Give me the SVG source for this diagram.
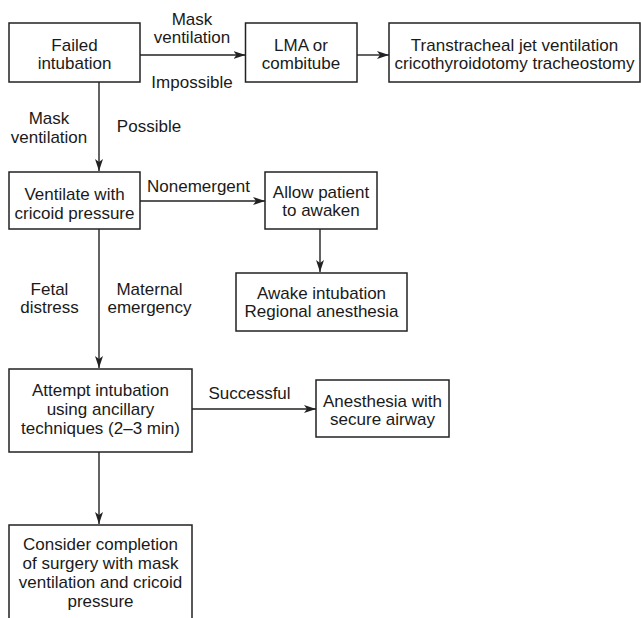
<svg xmlns="http://www.w3.org/2000/svg" width="641" height="618" viewBox="0 0 641 618">
<defs>
<marker id="ah" viewBox="0 0 12 8" refX="12" refY="4" markerWidth="12" markerHeight="8" markerUnits="userSpaceOnUse" orient="auto">
<path d="M0,0 L12,4 L0,8 L3,4 Z" fill="#222"/>
</marker>
<style>
rect.box{fill:#fff;stroke:#222;stroke-width:1.5}
text{font-family:"Liberation Sans",Arial,sans-serif;font-size:17px;fill:#1a1a1a;text-anchor:middle}
.conn line{stroke:#222;stroke-width:1.4;marker-end:url(#ah)}
</style>
</defs>
<rect width="641" height="618" fill="#fff"/>
<g class="conn" id="connectors">
<line x1="140" y1="55" x2="245.5" y2="55"/>
<line x1="357" y1="55" x2="389" y2="55"/>
<line x1="99" y1="82" x2="99" y2="171"/>
<line x1="140" y1="201" x2="265" y2="201"/>
<line x1="320" y1="229" x2="320" y2="272"/>
<line x1="99" y1="229" x2="99" y2="368"/>
<line x1="192" y1="409" x2="316" y2="409"/>
<line x1="99" y1="452" x2="99" y2="524"/>
</g>
<g id="labels">
<text x="192" y="25">Mask</text>
<text x="192" y="42.5">ventilation</text>
<text x="192" y="87.5">Impossible</text>
<text x="49" y="124">Mask</text>
<text x="49" y="143">ventilation</text>
<text x="149" y="132">Possible</text>
<text x="198.5" y="191.5">Nonemergent</text>
<text x="49.5" y="295">Fetal</text>
<text x="49.5" y="313">distress</text>
<text x="149.5" y="295">Maternal</text>
<text x="149.5" y="313">emergency</text>
<text x="249.5" y="399">Successful</text>
</g>
<g id="n1"><rect class="box" x="9" y="23" width="131" height="59"/><text x="74.5" y="50.5">Failed</text><text x="74.5" y="69">intubation</text></g>
<g id="n2"><rect class="box" x="245.5" y="23" width="111.5" height="59"/><text x="301" y="50.5">LMA or</text><text x="301" y="69">combitube</text></g>
<g id="n3"><rect class="box" x="389" y="23" width="251" height="59"/><text x="514.5" y="50.5">Transtracheal jet ventilation</text><text x="514.5" y="69">cricothyroidotomy tracheostomy</text></g>
<g id="n4"><rect class="box" x="9" y="172" width="131" height="57"/><text x="74.5" y="200">Ventilate with</text><text x="74.5" y="218.5">cricoid pressure</text></g>
<g id="n5"><rect class="box" x="265" y="172" width="112" height="57"/><text x="321" y="197.5">Allow patient</text><text x="321" y="216">to awaken</text></g>
<g id="n6"><rect class="box" x="236" y="273" width="171" height="58"/><text x="321.5" y="298.5">Awake intubation</text><text x="321.5" y="317">Regional anesthesia</text></g>
<g id="n7"><rect class="box" x="9" y="369" width="183" height="83"/><text x="100.5" y="396">Attempt intubation</text><text x="100.5" y="415">using ancillary</text><text x="100.5" y="434">techniques (2–3 min)</text></g>
<g id="n8"><rect class="box" x="316" y="380" width="133" height="57"/><text x="382.5" y="406.5">Anesthesia with</text><text x="382.5" y="425">secure airway</text></g>
<g id="n9"><rect class="box" x="9" y="525" width="183" height="110"/><text x="100.5" y="550">Consider completion</text><text x="100.5" y="568.5">of surgery with mask</text><text x="100.5" y="587.5">ventilation and cricoid</text><text x="100.5" y="606.5">pressure</text></g>
</svg>
